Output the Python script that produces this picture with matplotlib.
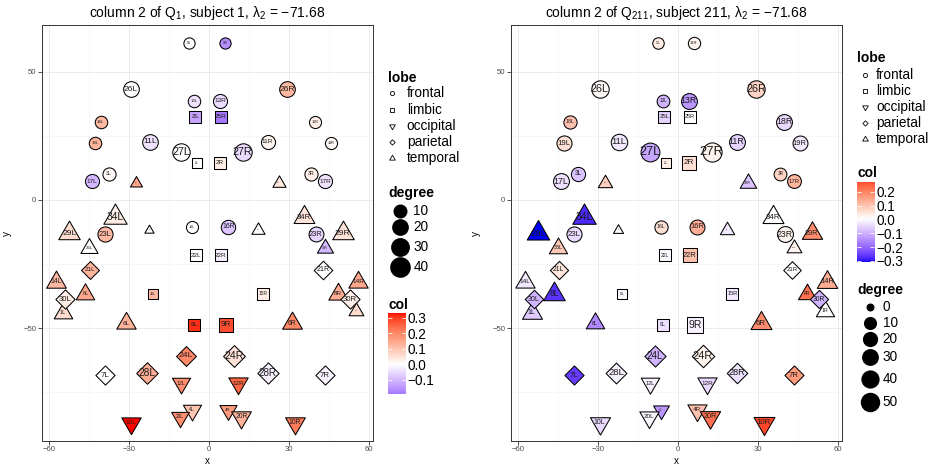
import numpy as np
import matplotlib
matplotlib.use('Agg')
import matplotlib.pyplot as plt
from matplotlib.path import Path

plt.rcParams['font.family'] = ['Liberation Sans', 'DejaVu Sans']
plt.rcParams['mathtext.fontset'] = 'custom'
plt.rcParams['mathtext.rm'] = 'Liberation Sans'
plt.rcParams['mathtext.it'] = 'Liberation Sans:italic'
plt.rcParams['mathtext.bf'] = 'Liberation Sans:bold'

# ---- node table (Desikan regions 1..34, left / right hemisphere) ----
region = list(range(1, 35))
lobe = ['temporal', 'limbic', 'frontal', 'occipital', 'temporal', 'temporal', 'parietal',
        'temporal', 'limbic', 'occipital', 'frontal', 'occipital', 'frontal', 'temporal',
        'limbic', 'frontal', 'frontal', 'frontal', 'frontal', 'occipital', 'parietal',
        'limbic', 'frontal', 'parietal', 'limbic', 'frontal', 'frontal', 'parietal',
        'temporal', 'parietal', 'frontal', 'temporal', 'temporal', 'temporal']
xL = [-55.0, -4.7, -37.5, -6.6, -22.5, -31.3, -39.1, -46.4, -5.7, -29.4, -22.3, -10.6,
      -5.6, -57.5, -21.0, -6.6, -44.1, -40.7, -42.8, -11.0, -44.8, -5.0, -39.1, -8.8,
      -5.2, -29.4, -10.6, -23.3, -52.5, -54.2, -7.6, -27.5, -45.0, -35.4]
yL = [-44.0, 14.6, 10.2, -82.0, -11.7, -48.2, -68.4, -36.7, -48.8, -87.0, 22.8, -71.6,
      38.7, -31.9, -36.7, -10.4, 7.4, 30.6, 22.1, -84.6, -27.3, -21.6, -13.3, -60.9,
      32.5, 43.2, 18.9, -67.4, -13.0, -38.8, 61.2, 6.8, -18.6, -6.8]
xR = [55.0, 4.0, 38.3, 6.9, 18.4, 30.9, 43.4, 48.3, 6.2, 32.1, 21.9, 10.9,
      4.0, 55.9, 20.3, 7.2, 43.6, 39.8, 45.5, 12.1, 42.8, 4.3, 40.0, 9.3,
      4.3, 29.1, 12.5, 21.9, 50.0, 52.8, 5.9, 26.0, 43.4, 35.5]
yR = [-43.2, 14.6, 10.2, -82.0, -11.7, -48.2, -68.4, -36.7, -48.8, -87.0, 22.8, -71.6,
      38.7, -31.9, -36.7, -10.4, 7.4, 30.6, 22.1, -84.6, -27.3, -21.6, -13.3, -60.9,
      32.5, 43.2, 18.9, -67.4, -13.0, -38.8, 61.2, 6.8, -18.6, -6.8]

# subject 1
deg1_L = [11, 6, 10, 10, 0, 13, 17, 11, 13, 13, 19, 10, 8, 14, 7, 7, 13, 8, 8, 9,
          13, 13, 17, 19, 9, 19, 27, 25, 19, 17, 5, 1, 8, 25]
deg1_R = [4, 13, 10, 8, 2, 14, 17, 13, 18, 14, 13, 13, 13, 13, 9, 14, 13, 7, 7, 14,
          15, 13, 16, 26, 13, 19, 27, 24, 19, 17, 5, 2, 6, 17]
col1_L = [0.06, 0.0, 0.01, 0.10, 0.0, 0.13, 0.0, 0.15, 0.31, 0.33, -0.04, 0.19, -0.04,
          0.12, 0.12, 0.0, -0.10, 0.12, 0.13, 0.19, 0.13, 0.0, 0.12, 0.20, -0.13, 0.0,
          0.0, 0.14, 0.06, 0.03, 0.0, 0.15, 0.0, 0.03]
col1_R = [0.06, 0.03, 0.03, 0.17, 0.0, 0.20, -0.02, 0.14, 0.28, 0.22, 0.02, 0.25, -0.05,
          0.15, 0.03, -0.08, -0.04, 0.03, 0.01, 0.13, 0.0, -0.02, -0.06, 0.05, -0.19, 0.12,
          -0.05, -0.02, 0.05, 0.03, -0.16, 0.04, -0.10, 0.05]

# subject 211
deg2_L = [21, 9, 19, 7, 0, 15, 24, 28, 15, 21, 33, 15, 12, 18, 7, 14, 29, 14, 24, 18,
          20, 13, 24, 35, 17, 40, 52, 33, 33, 21, 7, 4, 14, 38]
deg2_R = [14, 26, 12, 18, 4, 25, 24, 13, 38, 25, 29, 18, 29, 23, 15, 23, 17, 29, 23, 22,
          17, 23, 29, 43, 15, 40, 55, 31, 22, 20, 10, 9, 5, 25]
col2_L = [-0.07, 0.03, -0.08, -0.14, 0.0, -0.16, -0.26, -0.27, -0.04, -0.05, -0.03, -0.02,
          -0.10, -0.03, -0.01, 0.05, -0.04, 0.10, 0.05, -0.01, 0.04, -0.01, -0.05, -0.10,
          -0.06, 0.01, -0.12, -0.02, -0.31, -0.10, 0.03, 0.08, 0.09, -0.28]
col2_R = [0.0, 0.05, 0.07, 0.10, -0.03, 0.18, 0.16, 0.22, -0.02, 0.27, -0.06, -0.05, -0.14,
          0.13, -0.03, 0.13, 0.12, -0.05, -0.03, 0.22, 0.0, 0.10, 0.02, 0.02, 0.0, 0.07,
          0.02, -0.04, 0.18, -0.10, 0.02, -0.08, 0.02, 0.0]

lobe_names = ['frontal', 'limbic', 'occipital', 'parietal', 'temporal']
deg_breaks1 = [10, 20, 30, 40]
deg_breaks2 = [0, 10, 20, 30, 40, 50]
col_breaks1 = [0.3, 0.2, 0.1, 0.0, -0.1]
col_breaks2 = [0.2, 0.1, 0.0, -0.1, -0.2, -0.3]

# ---- colour: gradient2 blue-white-red, interpolated in CIELAB ----
WHITE = np.array([0.95047, 1.0, 1.08883])
M = np.array([[0.4124, 0.3576, 0.1805], [0.2126, 0.7152, 0.0722], [0.0193, 0.1192, 0.9505]])


def to_lab(rgb):
    c = np.asarray(rgb, float)
    lin = np.where(c <= 0.04045, c / 12.92, ((c + 0.055) / 1.055) ** 2.4)
    xyz = M @ lin / WHITE
    f = np.where(xyz > (6 / 29) ** 3, np.cbrt(xyz), xyz / (3 * (6 / 29) ** 2) + 4 / 29)
    return np.array([116 * f[1] - 16, 500 * (f[0] - f[1]), 200 * (f[1] - f[2])])


def from_lab(lab):
    L, a, b = lab[..., 0], lab[..., 1], lab[..., 2]
    fy = (L + 16) / 116
    f = np.stack([fy + a / 500, fy, fy - b / 200], -1)
    xyz = np.where(f > 6 / 29, f ** 3, 3 * (6 / 29) ** 2 * (f - 4 / 29)) * WHITE
    lin = np.clip(xyz @ np.linalg.inv(M).T, 0, 1)
    c = np.where(lin <= 0.0031308, 12.92 * lin, 1.055 * lin ** (1 / 2.4) - 0.055)
    return np.clip(c, 0, 1)


LOW, MID, HIGH = to_lab((0, 0, 1)), to_lab((1, 1, 1)), to_lab((1, 0, 0))


def fill(v, m):
    t = np.clip(0.5 + np.atleast_1d(np.asarray(v, float)) / (2 * m), 0, 1)[:, None]
    lab = np.where(t < 0.5, LOW + (MID - LOW) * (t / 0.5), MID + (HIGH - MID) * ((t - 0.5) / 0.5))
    return from_lab(lab)


# ---- size: diameter in px from degree ----
def diam1(d):
    return 7.4 + 14 * np.sqrt(np.clip(d, 0, None) / 45.0)


def diam2(d):
    return 8.0 + 12 * np.sqrt(np.clip(d, 0, None) / 55.0)


def poly(pts):
    return Path(np.array(pts + [pts[0]], float), closed=True)


TRI_UP = poly([(0, 1), (0.866, -0.5), (-0.866, -0.5)])
TRI_DN = poly([(0, -1), (0.866, 0.5), (-0.866, 0.5)])
DIAMOND = poly([(0, 1), (1, 0), (0, -1), (-1, 0)])
SQUARE = poly([(-1, -1), (1, -1), (1, 1), (-1, 1)])
shape = {'frontal': ('o', 1.0), 'limbic': (SQUARE, 0.886), 'occipital': (TRI_DN, 1.555),
         'parietal': (DIAMOND, 1.2533), 'temporal': (TRI_UP, 1.555)}

PX = 0.72  # points per pixel at dpi 100

fig = plt.figure(figsize=(9.31, 4.68), dpi=100)
W, H = 931.0, 468.0


def panel(x0, x1, y0, y1):
    return fig.add_axes([x0 / W, 1 - y1 / H, (x1 - x0) / W, (y1 - y0) / H])


def draw_panel(ax, degL, degR, colL, colR, diam, title):
    names = [f'{r}L' for r in region] + [f'{r}R' for r in region]
    xs = xL + xR
    ys = yL + yR
    lobes = lobe + lobe
    degs = degL + degR
    cols = colL + colR
    m = max(abs(min(cols)), abs(max(cols)))
    fc = fill(cols, m)
    for i in range(len(names)):
        mk, k = shape[lobes[i]]
        d = diam(degs[i])
        ms = d * k * PX - 0.6
        ax.scatter([xs[i]], [ys[i]], s=ms ** 2, marker=mk, facecolor=fc[i],
                   edgecolor='black', linewidths=0.75, zorder=3)
    for i in range(len(names)):
        d = diam(degs[i])
        fs = max(0.8, 1.3 * (d - 10.0)) * PX
        ax.text(xs[i], ys[i], names[i], fontsize=fs, ha='center', va='center',
                color='#1a1a1a', zorder=4)
    ax.set_xlim(-62.8, 61.3)
    ax.set_ylim(-94, 68.2)
    ax.set_xticks([-60, -30, 0, 30, 60])
    ax.set_xticks([-45, -15, 15, 45], minor=True)
    ax.set_yticks([-50, 0, 50])
    ax.set_yticks([-75, -25, 25], minor=True)
    ax.grid(True, which='major', color='#EBEBEB', linewidth=0.7, zorder=0)
    ax.grid(True, which='minor', color='#F2F2F2', linewidth=0.4, zorder=0)
    ax.set_axisbelow(True)
    ax.tick_params(which='major', length=2.75, width=0.6, color='#333333',
                   labelsize=5.6, labelcolor='#4D4D4D', pad=1.2)
    ax.tick_params(which='minor', length=0)
    for s in ax.spines.values():
        s.set_color('#333333')
        s.set_linewidth(0.7)
    ax.set_xlabel('x', fontsize=7.2, labelpad=2)
    ax.set_ylabel('y', fontsize=7.2, labelpad=8)
    ax.set_title(title, fontsize=10, pad=6)
    return min(cols), max(cols), m


ax1 = panel(41.7, 372.7, 25.3, 440.7)
ax2 = panel(510.7, 841.7, 25.3, 440.7)
lim1 = draw_panel(ax1, deg1_L, deg1_R, col1_L, col1_R, diam1,
                  r'column 2 of $\mathrm{Q}_{1}$, subject 1, $\mathrm{λ}_{2}$ = −71.68')
lim2 = draw_panel(ax2, deg2_L, deg2_R, col2_L, col2_R, diam2,
                  r'column 2 of $\mathrm{Q}_{211}$, subject 211, $\mathrm{λ}_{2}$ = −71.68')

# ---- legends drawn in pixel coordinates ----
ov = fig.add_axes([0, 0, 1, 1])
ov.set_xlim(0, W)
ov.set_ylim(H, 0)
ov.axis('off')


def lobe_legend(xt, yt, xm, xtxt, ys):
    ov.text(xt, yt, 'lobe', fontsize=10, fontweight='bold', va='center', ha='left')
    for nm, yy in zip(lobe_names, ys):
        mk, k = shape[nm]
        ov.scatter([xm], [yy], s=(4.2 * k * PX) ** 2, marker=mk, facecolor='white',
                   edgecolor='black', linewidths=0.6)
        ov.text(xtxt, yy, nm, fontsize=9.8, va='center', ha='left')


def degree_legend(xt, yt, xc, xtxt, ys, breaks, diam):
    ov.text(xt, yt, 'degree', fontsize=10, fontweight='bold', va='center', ha='left')
    for b, yy in zip(breaks, ys):
        ov.scatter([xc], [yy], s=(diam(b) * PX) ** 2, marker='o', color='black', linewidths=0)
        ov.text(xtxt, yy, str(b), fontsize=9.8, va='center', ha='left')


def col_legend(xt, yt, box, lim, breaks):
    ov.text(xt, yt, 'col', fontsize=10, fontweight='bold', va='center', ha='left')
    vmin, vmax, m = lim
    cax = fig.add_axes([box[0] / W, 1 - box[3] / H, (box[1] - box[0]) / W, (box[3] - box[2]) / H])
    vals = np.linspace(vmin, vmax, 300)
    cax.imshow(fill(vals, m)[:, None, :], extent=[0, 1, vmin, vmax], origin='lower', aspect='auto')
    cax.set_xlim(0, 1)
    cax.set_ylim(vmin, vmax)
    cax.set_xticks([])
    cax.set_yticks(breaks)
    cax.set_yticklabels([f'{b:.1f}'.replace('-', '−') for b in breaks])
    cax.tick_params(axis='y', direction='in', left=True, right=True, labelleft=False,
                    labelright=True, color='white', length=3.2, width=0.6,
                    labelsize=9.8, pad=1.5)
    for s in cax.spines.values():
        s.set_visible(False)


lobe_legend(388.3, 78, 391.7, 406.7, [93.3, 110, 126, 141.7, 158])
degree_legend(388.3, 193.3, 400, 413.3, [210.7, 226.7, 246.7, 267.3], deg_breaks1, diam1)
col_legend(388.3, 305, (388.3, 405.7, 313, 394), lim1, col_breaks1)

lobe_legend(857.5, 58, 865, 876, [75, 91, 107.3, 123.3, 139.3])
col_legend(857, 173.3, (856.7, 874, 182.3, 262.3), lim2, col_breaks2)
degree_legend(857, 290, 870, 882.7, [306.7, 323.3, 339, 356.7, 379, 401.7], deg_breaks2, diam2)

fig.savefig('out.png', dpi=100)
